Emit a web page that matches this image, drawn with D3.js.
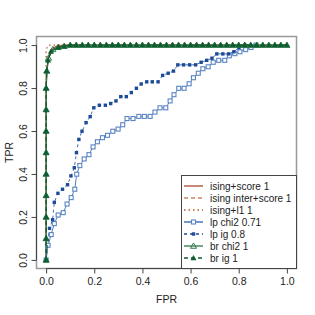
<!DOCTYPE html>
<html>
<head>
<meta charset="utf-8">
<script src="https://cdn.jsdelivr.net/npm/d3@7"></script>
<style>
  body { margin: 0; background: #fff; }
  text { font-family: "Liberation Sans", Arial, sans-serif; fill: #222; }
</style>
</head>
<body>
<div id="chart"></div>
<script>
(function() {
  var width = 315, height = 315;

  // ROC curves: [FPR, TPR]
  var isingScore = [[0,0],[0,0.5],[0,0.8],[0.003,0.88],[0.008,0.93],[0.015,0.96],[0.025,0.98],[0.04,0.993],[0.07,1],[1,1]];
  var isingInter = [[0,0],[0,0.5],[0,0.82],[0.004,0.9],[0.01,0.95],[0.02,0.975],[0.035,0.99],[0.06,1],[1,1]];
  var isingL1 = [[0,0],[0,0.6],[0,0.86],[0,0.98],[0.01,1],[0.03,1],[1,1]];

  var lpChi2 = [[0,0],[0.008,0.068],[0.021,0.118],[0.034,0.169],[0.05,0.209],[0.071,0.22],[0.087,0.26],
    [0.104,0.29],[0.119,0.329],[0.127,0.399],[0.14,0.439],[0.158,0.47],[0.178,0.49],[0.195,0.526],
    [0.213,0.55],[0.234,0.569],[0.255,0.58],[0.277,0.599],[0.299,0.609],[0.318,0.629],[0.336,0.658],
    [0.361,0.658],[0.385,0.668],[0.408,0.668],[0.432,0.668],[0.452,0.688],[0.473,0.708],[0.497,0.708],
    [0.515,0.74],[0.531,0.769],[0.551,0.799],[0.573,0.799],[0.594,0.82],[0.612,0.848],[0.632,0.869],
    [0.651,0.89],[0.673,0.899],[0.694,0.92],[0.717,0.929],[0.742,0.929],[0.761,0.95],[0.784,0.96],
    [0.805,0.969],[0.829,0.979],[0.851,0.989],[0.872,1]];
  var lpIg = [[0,0],[0.014,0.147],[0.027,0.187],[0.034,0.268],[0.049,0.31],[0.068,0.329],[0.089,0.35],
    [0.103,0.391],[0.117,0.429],[0.126,0.499],[0.136,0.561],[0.149,0.599],[0.166,0.639],[0.183,0.667],
    [0.198,0.708],[0.221,0.72],[0.246,0.72],[0.268,0.728],[0.29,0.74],[0.31,0.76],[0.333,0.76],
    [0.354,0.779],[0.375,0.799],[0.395,0.819],[0.418,0.829],[0.441,0.829],[0.465,0.829],[0.484,0.859],
    [0.507,0.869],[0.529,0.879],[0.547,0.908],[0.571,0.908],[0.596,0.908],[0.621,0.908],[0.644,0.92],
    [0.667,0.929],[0.689,0.939],[0.709,0.959],[0.734,0.959],[0.758,0.959],[0.78,0.969],[0.801,0.988],
    [0.826,1]];

  var brTpr = [0,0.1,0.2,0.3,0.4,0.5,0.6,0.7,0.8,0.88,0.94,0.98,0.99,0.995,
    1,1,1,1,1,1,1,1,1,1,1,1,1,1,1,1,1,1,1,1,1,1,1,1,1,1,1,1,1,1,1,1,1,1,1,1,1];
  var brFpr = [0,0,0,0,0,0,0,0,0,0.003,0.01,0.028,0.05,0.075,
    0.1,0.125,0.15,0.175,0.2,0.225,0.25,0.275,0.3,0.325,0.35,0.375,0.4,0.425,0.45,0.475,0.5,0.525,0.55,0.575,
    0.6,0.625,0.65,0.675,0.7,0.725,0.75,0.775,0.8,0.825,0.85,0.875,0.9,0.925,0.95,0.975,1];
  var brChi2 = brTpr.map(function(t, i) { return [brFpr[i], t]; });
  var brIg = [[0,0],[0,0.1],[0,0.2],[0,0.3],[0,0.4],[0,0.5],[0,0.6],[0,0.7],[0,0.8],[0.002,0.88],[0.008,0.93],[0.02,0.97]]
    .concat(brChi2.slice(12));

  var xTicks = [0, 0.2, 0.4, 0.6, 0.8, 1.0];
  var yTicks = [0, 0.2, 0.4, 0.6, 0.8, 1.0];

  var series = [
    { name: "ising+score 1", data: isingScore, color: "#A84A2E", dash: null, sym: null, lw: 1.3 },
    { name: "ising inter+score 1", data: isingInter, color: "#D08560", dash: "4,3", sym: null, lw: 1.3 },
    { name: "ising+l1 1", data: isingL1, color: "#B8582E", dash: "1.5,3", sym: null, lw: 1.3 },
    { name: "lp chi2 0.71", data: lpChi2, color: "#2B5EAB", dash: null, sym: "sqOpen", lw: 0.8 },
    { name: "lp ig 0.8", data: lpIg, color: "#1C4B98", dash: "3,3", sym: "sqFill", lw: 0.8 },
    { name: "br chi2 1", data: brChi2, color: "#2C7A48", dash: null, sym: "triOpen", lw: 1.3 },
    { name: "br ig 1", data: brIg, color: "#0F5C30", dash: "4,3", sym: "triFill", lw: 1.3 }
  ];

  var x = d3.scaleLinear().domain([-0.04, 1.04]).range([36.5, 296.5]);
  var y = d3.scaleLinear().domain([-0.04, 1.04]).range([268.5, 36.5]);

  var svg = d3.select("#chart").append("svg")
    .attr("width", width).attr("height", height);

  var line = d3.line()
    .x(function(d) { return x(d[0]); })
    .y(function(d) { return y(d[1]); });

  function drawSymbol(g, kind, color, px, py) {
    if (kind === "sqOpen") {
      g.append("rect").attr("x", px - 2).attr("y", py - 2).attr("width", 4).attr("height", 4)
        .attr("fill", "#fff").attr("stroke", "#5A85C4").attr("stroke-width", 1.1);
    } else if (kind === "sqFill") {
      g.append("rect").attr("x", px - 1.7).attr("y", py - 1.7).attr("width", 3.4).attr("height", 3.4)
        .attr("fill", color);
    } else if (kind === "triOpen") {
      g.append("path").attr("d", d3.symbol(d3.symbolTriangle, 16)())
        .attr("transform", "translate(" + px + "," + (py + 0.5) + ")")
        .attr("fill", "none").attr("stroke", color).attr("stroke-width", 1);
    } else if (kind === "triFill") {
      g.append("path").attr("d", d3.symbol(d3.symbolTriangle, 16)())
        .attr("transform", "translate(" + px + "," + (py + 0.5) + ")")
        .attr("fill", color);
    }
  }

  var plot = svg.append("g");
  series.forEach(function(s) {
    plot.append("path")
      .datum(s.data)
      .attr("d", line)
      .attr("fill", "none")
      .attr("stroke", s.color)
      .attr("stroke-width", s.lw)
      .attr("stroke-dasharray", s.dash);
    if (s.sym) {
      s.data.forEach(function(d) {
        drawSymbol(plot, s.sym, s.color, x(d[0]), y(d[1]));
      });
    }
  });

  // box
  svg.append("rect")
    .attr("x", 36.5).attr("y", 36.5).attr("width", 260).attr("height", 232)
    .attr("fill", "none").attr("stroke", "#999").attr("stroke-width", 1.5);

  // axes
  var xAxis = d3.axisBottom(x).tickValues(xTicks).tickSize(5).tickPadding(4)
    .tickFormat(d3.format(".1f"));
  var gx = svg.append("g").attr("transform", "translate(0,268.5)").call(xAxis);
  gx.select(".domain").attr("d", "M" + x(0) + ",0H" + x(1)).attr("stroke", "#444");
  gx.selectAll(".tick line").attr("stroke", "#444");
  gx.selectAll("text").attr("font-size", 10.5).attr("fill", "#222")
    .attr("font-family", "Liberation Sans, Arial, sans-serif");

  var yAxis = d3.axisLeft(y).tickValues(yTicks).tickSize(5).tickPadding(4)
    .tickFormat(d3.format(".1f"));
  var gy = svg.append("g").attr("transform", "translate(36.5,0)").call(yAxis);
  gy.select(".domain").attr("d", "M0," + y(0) + "V" + y(1)).attr("stroke", "#444");
  gy.selectAll(".tick line").attr("stroke", "#444");
  gy.selectAll("text").attr("font-size", 10.5).attr("fill", "#222")
    .attr("font-family", "Liberation Sans, Arial, sans-serif")
    .attr("text-anchor", "middle").attr("dy", null)
    .attr("x", 0).attr("y", 0)
    .attr("transform", "translate(-10,0) rotate(-90)");

  svg.append("text").attr("x", x(0.5)).attr("y", 303).attr("text-anchor", "middle")
    .attr("font-size", 10.5).text("FPR");
  svg.append("text").attr("transform", "translate(13," + y(0.5) + ") rotate(-90)")
    .attr("text-anchor", "middle").attr("font-size", 10.5).text("TPR");

  // legend
  var lg = svg.append("g");
  lg.append("rect").attr("x", 181.5).attr("y", 175.5).attr("width", 115).attr("height", 93)
    .attr("fill", "#fff").attr("stroke", "#444").attr("stroke-width", 1);
  series.forEach(function(s, i) {
    var ly = 186 + i * 12;
    lg.append("line").attr("x1", 184).attr("x2", 203).attr("y1", ly).attr("y2", ly)
      .attr("stroke", s.color).attr("stroke-width", 1.3).attr("stroke-dasharray", s.dash);
    if (s.sym) drawSymbol(lg, s.sym, s.color, 193.5, ly);
    lg.append("text").attr("x", 210).attr("y", ly + 3.5).attr("font-size", 10).text(s.name);
  });
})();
</script>
</body>
</html>
